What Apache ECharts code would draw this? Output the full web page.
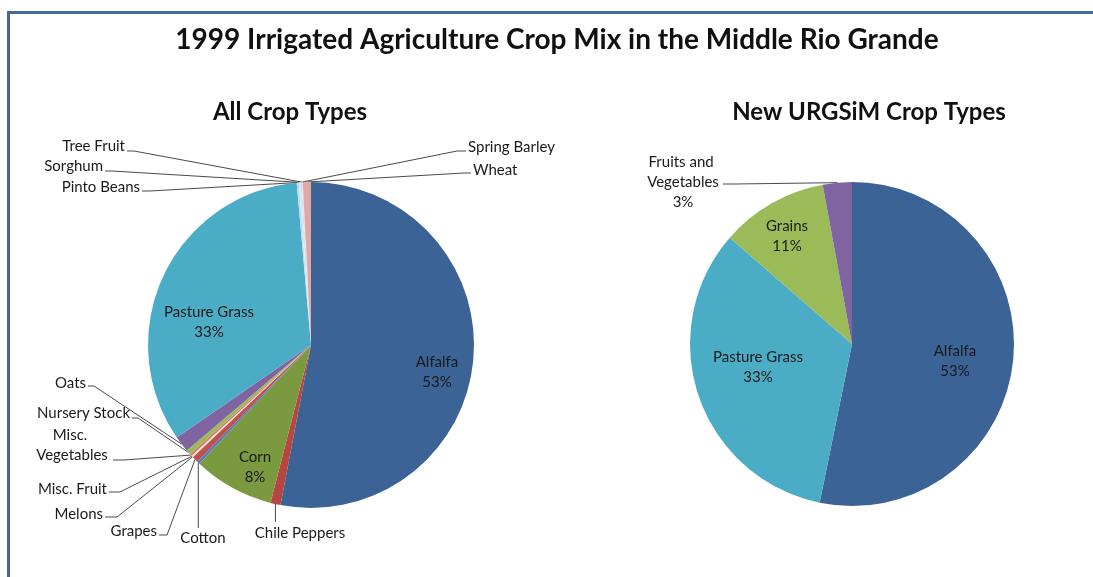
<!DOCTYPE html>
<html><head><meta charset="utf-8">
<script src="https://cdn.jsdelivr.net/npm/echarts@6/dist/echarts.min.js"></script>
<style>html,body{margin:0;padding:0;background:#fff}#c{width:1093px;height:577px}</style>
</head><body><div id="c"></div>
<script>
// ---- data ----
const allCategories = ['Alfalfa','Chile Peppers','Corn','Cotton','Grapes','Melons','Misc. Fruit','Misc. Vegetables','Nursery Stock','Oats','Pasture Grass','Pinto Beans','Sorghum','Spring Barley','Tree Fruit','Wheat'];
const allValues = [53.0, 1.0, 8.0, 0.3, 0.6, 0.1, 0.1, 0.2, 0.5, 1.6, 33.2, 0.2, 0.2, 0.1, 0.1, 0.8];
const newCategories = ['Alfalfa','Pasture Grass','Grains','Fruits and Vegetables'];
const newValues = [53.2, 33.2, 10.7, 2.9];
const titleText = '1999 Irrigated Agriculture Crop Mix in the Middle Rio Grande';
const leftTitle = 'All Crop Types';
const rightTitle = 'New URGSiM Crop Types';

// ---- styles ----
const allColors = ['#3B6396','#B84542','#7B9A40','#4F81BD','#C0504D','#D7E4BD','#F2DCDB','#E46C6A','#9BBB59','#8064A2','#4BACC6','#B7DEE8','#DCE6F2','#C6D9F1','#E6E0EC','#DFA7A6'];
const newColors = ['#3B6396','#4BACC6','#9BBB59','#8064A2'];
const innerNames = {left: ['Alfalfa','Pasture Grass','Corn'], right: ['Alfalfa','Pasture Grass','Grains']};
const FONT = 'Lato';

// label placement (layout only)
const leftLayout = {
  'Alfalfa': {x:437, y:372},
  'Pasture Grass': {x:209, y:322},
  'Corn': {x:255, y:467},
  'Tree Fruit': {x:125, y:146, align:'right', tail:[[134,151],[127,151]]},
  'Sorghum': {x:103, y:166, align:'right', tail:[[112,171],[105,171]]},
  'Pinto Beans': {x:140, y:187, align:'right', tail:[[150,191],[142,191]]},
  'Spring Barley': {x:468, y:147, align:'left', tail:[[457,151],[466,151]]},
  'Wheat': {x:473, y:170, align:'left', tail:[[464,173],[471,173]]},
  'Oats': {x:86, y:383, align:'right', tail:[[94,386],[88,386]]},
  'Nursery Stock': {x:130, y:413, align:'right', tail:[[138,418],[132,418]]},
  'Misc. Vegetables': {x:72, y:445, tail:[[124,460],[113,460]], width:84},
  'Misc. Fruit': {x:107, y:489, align:'right', tail:[[120,492],[109,492]]},
  'Melons': {x:103, y:514, align:'right', tail:[[117,517],[105,517]]},
  'Grapes': {x:157, y:531, align:'right', tail:[[167,535],[159,535]]},
  'Cotton': {x:203, y:538, vert:528},
  'Chile Peppers': {x:300, y:533, vert:522}
};
const rightLayout = {
  'Alfalfa': {x:955, y:361},
  'Pasture Grass': {x:758, y:367},
  'Grains': {x:787, y:236},
  'Fruits and Vegetables': {x:683, y:182, tail:[[735,184],[723,184]], width:80}
};

function pct(v, arr) {
  const t = arr.reduce((a, b) => a + b, 0);
  return Math.round(v / t * 100) + '%';
}

function buildData(names, values, colors, inner, layout, showPctOutside) {
  return names.map((n, i) => {
    const isIn = inner.indexOf(n) >= 0;
    const lay = layout[n] || {};
    const item = {
      name: n, value: values[i],
      itemStyle: {color: colors[i]},
      label: {
        position: isIn ? 'inside' : 'outside',
        formatter: (isIn || showPctOutside) ? (n + '\n' + pct(values[i], values)) : n
      },
      labelLine: {show: !isIn}
    };
    if (lay.width) { item.label.width = lay.width; item.label.overflow = 'break'; }
    return item;
  });
}

function makeLabelLayout(names, layout) {
  return function (p) {
    const s = layout[names[p.dataIndex]];
    if (!s) return {};
    const out = {x: s.x, y: s.y, align: s.align || 'center', verticalAlign: 'middle'};
    const pts = p.labelLinePoints;
    if (pts && pts.length) {
      const p0 = pts[0];
      if (s.tail) out.labelLinePoints = [p0].concat(s.tail);
      else if (s.vert) out.labelLinePoints = [p0, [p0[0], s.vert]];
    }
    return out;
  };
}

const labelBase = {fontFamily: FONT, fontSize: 15, color: '#1a1a1a', lineHeight: 20, align: 'center'};
const lineBase = {lineStyle: {color: '#4a4a4a', width: 1}, length: 10, length2: 10};

const chart = echarts.init(document.getElementById('c'), null, {renderer: 'canvas'});
chart.setOption({
  backgroundColor: '#ffffff',
  animation: false,
  graphic: [
    {type: 'rect', shape: {x: 7, y: 11, width: 1086, height: 3}, style: {fill: '#45679A'}},
    {type: 'rect', shape: {x: 7, y: 11, width: 3, height: 566}, style: {fill: '#45679A'}},
    {type: 'text', x: 557, y: 40, style: {text: titleText, font: 'bold 28px ' + FONT, fill: '#111', textAlign: 'center', textVerticalAlign: 'middle'}},
    {type: 'text', x: 290, y: 112, style: {text: leftTitle, font: 'bold 24px ' + FONT, fill: '#111', textAlign: 'center', textVerticalAlign: 'middle'}},
    {type: 'text', x: 869, y: 112, style: {text: rightTitle, font: 'bold 24px ' + FONT, fill: '#111', textAlign: 'center', textVerticalAlign: 'middle'}}
  ],
  series: [
    {
      type: 'pie', center: [311, 345], radius: 163, startAngle: 90, clockwise: true,
      avoidLabelOverlap: false, silent: true,
      label: labelBase, labelLine: lineBase,
      labelLayout: makeLabelLayout(allCategories, leftLayout),
      data: buildData(allCategories, allValues, allColors, innerNames.left, leftLayout, false)
    },
    {
      type: 'pie', center: [852, 344], radius: 162, startAngle: 90, clockwise: true,
      avoidLabelOverlap: false, silent: true,
      label: labelBase, labelLine: lineBase,
      labelLayout: makeLabelLayout(newCategories, rightLayout),
      data: buildData(newCategories, newValues, newColors, innerNames.right, rightLayout, true)
    }
  ]
});
</script></body></html>
